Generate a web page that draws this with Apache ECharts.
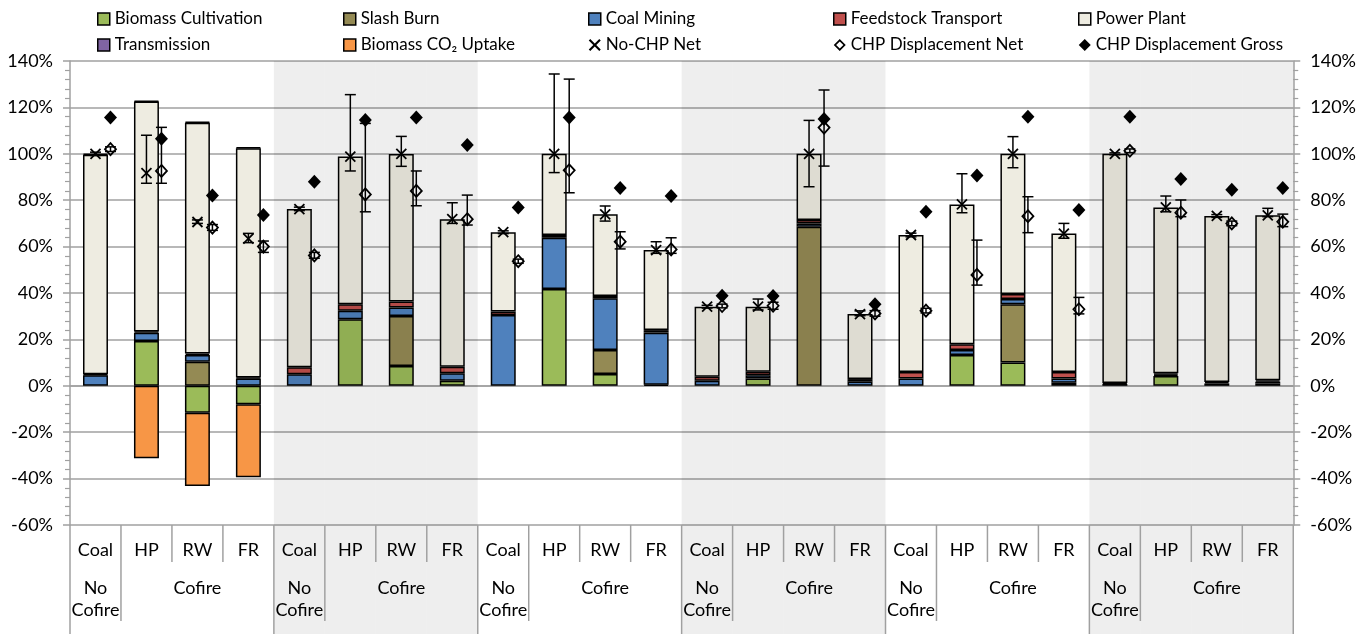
<!DOCTYPE html>
<html>
<head>
<meta charset="utf-8">
<script src="https://cdn.jsdelivr.net/npm/echarts@6/dist/echarts.min.js"></script>
<style>
  html, body { margin: 0; padding: 0; background: #fff; }
  #chart { width: 1359px; height: 634px; }
</style>
</head>
<body>
<div id="chart"></div>
<script>
// Category labels (first row) and scenario labels (second row)
const categories = ['Coal','HP','RW','FR','Coal','HP','RW','FR','Coal','HP','RW','FR',
                    'Coal','HP','RW','FR','Coal','HP','RW','FR','Coal','HP','RW','FR'];
const scenarioLabels = ['No\nCofire','','Cofire','','No\nCofire','','Cofire','','No\nCofire','','Cofire','',
                        'No\nCofire','','Cofire','','No\nCofire','','Cofire','','No\nCofire','','Cofire',''];

// Stacked emission components (% of reference)
const biomassCultivation = [null,19.3,-11.6,-8.0, null,28.7,8.5,2.2, null,41.7,5.1,0.4,
                            null,3.2,null,null, null,13.3,10.0,1.3, null,4.2,null,1.0];
const slashBurn = [null,null,10.4,null, null,null,21.6,null, null,null,10.3,null,
                   null,null,68.6,null, null,null,25.1,null, null,null,null,null];
const coalMining = [4.6,3.6,2.9,3.2, 5.0,3.7,3.7,3.2, 30.5,22.1,22.3,22.5,
                    2.2,1.4,1.4,1.8, 3.2,2.1,2.3,1.9, 0.8,0.6,1.0,0.8];
const feedstockTransport = [0.4,0.5,0.6,0.4, 3.0,2.7,2.5,2.8, 1.5,1.2,1.0,1.1,
                            1.7,1.5,1.5,1.1, 2.7,2.5,2.2,2.7, 0.4,0.6,0.6,0.6];
const powerPlant = [94.6,99.1,99.5,98.8, 68.2,63.7,63.6,63.6, 34.2,35.0,35.2,34.5,
                    30.2,28.0,28.5,28.0, 59.1,60.3,60.4,59.7, 98.8,71.5,71.6,71.1];
const transmission = [0.4,0.4,0.4,0.4, null,null,null,null, null,null,null,null,
                      null,null,null,null, null,null,null,null, null,null,null,null];
const biomassCO2Uptake = [null,-31.2,-31.6,-31.4, null,null,null,null, null,null,null,null,
                          null,null,null,null, null,null,null,null, null,null,null,null];

// Net results with uncertainty ranges
const noChpNet  = [100,91.7,70.6,63.4, 76.2,98.8,100,71.8, 66.2,100,73.9,58.5,
                   34.1,34.1,100,30.9, 65,78.2,100,65.6, 100,76.9,73.2,73.5];
const noChpLow  = [99.3,87.3,70.0,61.7, 75.5,92.6,94.6,70.0, 65.6,91.9,71.0,57.1,
                   33.5,32.7,85.8,30.2, 64.2,74.6,94.0,63.6, 99.6,75.0,72.6,72.9];
const noChpHigh = [100.7,108.0,71.5,65.7, 77.0,125.5,107.5,78.9, 66.8,134.4,77.5,62.1,
                   34.7,37.4,114.4,32.3, 65.8,91.4,107.4,70.0, 100.4,81.8,73.8,76.5];

const chpNet     = [102,92.6,68.2,60.0, 56.2,82.5,84.0,71.8, 53.7,92.9,62.1,58.8,
                    34.4,34.5,111.3,31.2, 32.4,47.8,73.1,33.0, 101.3,74.6,70.0,70.7];
const chpNetLow  = [101,87.3,67.0,57.5, 55.0,75.0,77.6,69.3, 52.8,83.2,59.0,57.1,
                    33.6,33.0,94.7,30.0, 31.4,43.4,66.0,31.0, 100.5,72.9,69.0,68.6];
const chpNetHigh = [103,111.4,69.5,62.4, 57.5,113.1,92.6,82.2, 54.6,132.2,66.4,63.8,
                    35.2,36.0,127.5,32.4, 33.4,62.8,81.5,38.1, 102.1,80.1,71.0,74.0];
const chpGross   = [115.7,106.5,82.0,73.6, 88.0,114.6,115.7,103.8, 76.8,115.7,85.3,81.8,
                    38.8,38.7,115.0,35.1, 75.0,90.6,116.0,75.8, 116.0,89.1,84.5,85.3];

const yTicks = { min: -60, max: 140, interval: 20 };

const FONT = 'Lato';
const GRID_GRAY = '#A0A0A0';
const MARKER_SHIFT = 15;   // CHP markers sit just right of the bar

function barSeries(name, data, color) {
  return {
    name, type: 'bar', stack: 'total', data, barWidth: '49%',
    itemStyle: { color, borderColor: '#000', borderWidth: 1.5 },
    emphasis: { disabled: true }, z: 2
  };
}

function errorGroup(api, x, yLo, yHi) {
  const st = { stroke: '#000', lineWidth: 1.5 };
  const cap = 5.5;
  return [
    { type: 'line', shape: { x1: x, y1: yLo, x2: x, y2: yHi }, style: st },
    { type: 'line', shape: { x1: x - cap, y1: yLo, x2: x + cap, y2: yLo }, style: st },
    { type: 'line', shape: { x1: x - cap, y1: yHi, x2: x + cap, y2: yHi }, style: st }
  ];
}

// No-CHP net: X marker with error bar at the bar centre
function renderNoChp(params, api) {
  const i = api.value(0);
  const p = api.coord([i, api.value(1)]);
  const lo = api.coord([i, api.value(2)])[1];
  const hi = api.coord([i, api.value(3)])[1];
  const x = p[0], y = p[1], s = 5;
  const st = { stroke: '#000', lineWidth: 1.8 };
  return {
    type: 'group',
    children: errorGroup(api, x, lo, hi).concat([
      { type: 'line', shape: { x1: x - s, y1: y - s, x2: x + s, y2: y + s }, style: st },
      { type: 'line', shape: { x1: x - s, y1: y + s, x2: x + s, y2: y - s }, style: st }
    ])
  };
}

// CHP displacement net: hollow diamond with error bar, shifted right
function renderChpNet(params, api) {
  const i = api.value(0);
  const p = api.coord([i, api.value(1)]);
  const lo = api.coord([i, api.value(2)])[1];
  const hi = api.coord([i, api.value(3)])[1];
  const x = p[0] + MARKER_SHIFT, y = p[1];
  return {
    type: 'group',
    children: errorGroup(api, x, lo, hi).concat([
      { type: 'polygon',
        shape: { points: [[x, y - 6], [x + 5.5, y], [x, y + 6], [x - 5.5, y]] },
        style: { fill: null, stroke: '#000', lineWidth: 1.8 } }
    ])
  };
}

// Alternating shaded scenario bands and the category separator lines below the axis
function renderFrame(params, api) {
  const i = api.value(0);
  const cs = params.coordSys;
  const cx = api.coord([i, 0])[0];
  const bw = api.size([1, 0])[0];
  const left = cx - bw / 2;
  const axisY = cs.y + cs.height;
  const bottom = api.getHeight();
  const st = { stroke: GRID_GRAY, lineWidth: 1.5 };
  const kids = [];
  if (Math.floor(i / 4) % 2 === 1) {
    kids.push({ type: 'rect', shape: { x: left, y: cs.y, width: bw, height: bottom - cs.y },
                style: { fill: 'rgba(0,0,0,0.067)' } });
  }
  const pos = i % 4;
  const len = pos === 0 ? bottom - axisY : (pos === 1 ? 96 : 37);
  kids.push({ type: 'line', shape: { x1: left, y1: axisY, x2: left, y2: axisY + len }, style: st });
  if (i === categories.length - 1) {
    kids.push({ type: 'line', shape: { x1: left + bw, y1: axisY, x2: left + bw, y2: bottom }, style: st });
  }
  return { type: 'group', children: kids };
}

const idx = categories.map((c, i) => i);

const legendBase = {
  orient: 'vertical', top: 10, padding: 0, itemGap: 8, itemWidth: 12, itemHeight: 12,
  selectedMode: false,
  textStyle: { fontFamily: FONT, fontSize: 17, color: '#000', lineHeight: 18 },
  itemStyle: { borderColor: '#000', borderWidth: 1.5 }
};
const xIcon = 'path://M0,1.5L1.5,0L6,4.5L10.5,0L12,1.5L7.5,6L12,10.5L10.5,12L6,7.5L1.5,12L0,10.5L4.5,6Z';
const hollowDiamond = 'path://M6,0L12,6L6,12L0,6Z M6,2.4L2.4,6L6,9.6L9.6,6Z';

const option = {
  animation: false,
  backgroundColor: '#fff',
  textStyle: { fontFamily: FONT },
  legend: [
    Object.assign({}, legendBase, { left: 97, data: [
      { name: 'Biomass Cultivation', icon: 'rect' }, { name: 'Transmission', icon: 'rect' }] }),
    Object.assign({}, legendBase, { left: 343, data: [
      { name: 'Slash Burn', icon: 'rect' }, { name: 'Biomass CO₂ Uptake', icon: 'rect' }] }),
    Object.assign({}, legendBase, { left: 588, data: [
      { name: 'Coal Mining', icon: 'rect' },
      { name: 'No-CHP Net', icon: xIcon, itemStyle: { color: '#000', borderWidth: 0 } }] }),
    Object.assign({}, legendBase, { left: 833, data: [
      { name: 'Feedstock Transport', icon: 'rect' },
      { name: 'CHP Displacement Net', icon: hollowDiamond, itemStyle: { color: '#000', borderWidth: 0 } }] }),
    Object.assign({}, legendBase, { left: 1078, data: [
      { name: 'Power Plant', icon: 'rect' },
      { name: 'CHP Displacement Gross', icon: 'diamond', itemStyle: { color: '#000', borderWidth: 0, opacity: 1 } }] })
  ],
  grid: { left: 70, right: 62, top: 61, bottom: 109, containLabel: false },
  xAxis: [
    {
      type: 'category', data: categories, position: 'bottom',
      axisLine: { show: true, lineStyle: { color: GRID_GRAY, width: 1.5 } },
      axisTick: { show: false },
      axisLabel: { interval: 0, margin: 16, fontFamily: FONT, fontSize: 18, color: '#000', lineHeight: 18 }
    },
    {
      type: 'category', data: scenarioLabels, position: 'bottom',
      axisLine: { show: false }, axisTick: { show: false },
      axisLabel: { interval: 0, margin: 52, fontFamily: FONT, fontSize: 18, color: '#000', lineHeight: 22 }
    }
  ],
  yAxis: [
    {
      type: 'value', position: 'left', min: yTicks.min, max: yTicks.max, interval: yTicks.interval,
      axisLine: { show: true, lineStyle: { color: GRID_GRAY, width: 1.5 } },
      axisTick: { show: true, length: 7, lineStyle: { color: GRID_GRAY, width: 1.5 } },
      minorTick: { show: true, splitNumber: 5, length: 5, lineStyle: { color: GRID_GRAY, width: 1.2 } },
      splitLine: { show: true, lineStyle: { color: GRID_GRAY, width: 1.5 } },
      axisLabel: { formatter: '{value}%', margin: 17, fontFamily: FONT, fontSize: 18, color: '#000' }
    },
    {
      type: 'value', position: 'right', min: yTicks.min, max: yTicks.max, interval: yTicks.interval,
      axisLine: { show: true, lineStyle: { color: GRID_GRAY, width: 1.5 } },
      axisTick: { show: true, length: 7, lineStyle: { color: GRID_GRAY, width: 1.5 } },
      minorTick: { show: true, splitNumber: 5, length: 5, lineStyle: { color: GRID_GRAY, width: 1.2 } },
      splitLine: { show: false },
      axisLabel: { formatter: '{value}%', margin: 17, fontFamily: FONT, fontSize: 18, color: '#000' }
    }
  ],
  series: [
    barSeries('Biomass Cultivation', biomassCultivation, '#9BBB59'),
    barSeries('Slash Burn', slashBurn, '#948A54'),
    barSeries('Coal Mining', coalMining, '#4F81BD'),
    barSeries('Feedstock Transport', feedstockTransport, '#C0504D'),
    barSeries('Power Plant', powerPlant, '#EEECE1'),
    barSeries('Transmission', transmission, '#8064A2'),
    barSeries('Biomass CO₂ Uptake', biomassCO2Uptake, '#F79646'),
    {
      name: 'frame', type: 'custom', renderItem: renderFrame, clip: false, silent: true,
      data: idx.map(i => [i, 0]), encode: { x: 0, y: 1 }, z: 3
    },
    {
      name: 'No-CHP Net', type: 'custom', renderItem: renderNoChp, clip: false,
      itemStyle: { color: '#000' },
      data: idx.map(i => [i, noChpNet[i], noChpLow[i], noChpHigh[i]]),
      encode: { x: 0, y: 1 }, z: 4
    },
    {
      name: 'CHP Displacement Net', type: 'custom', renderItem: renderChpNet, clip: false,
      itemStyle: { color: '#000' },
      data: idx.map(i => [i, chpNet[i], chpNetLow[i], chpNetHigh[i]]),
      encode: { x: 0, y: 1 }, z: 4
    },
    {
      name: 'CHP Displacement Gross', type: 'scatter', symbol: 'diamond', symbolSize: [13, 14],
      symbolOffset: [MARKER_SHIFT, 0],
      itemStyle: { color: '#000', opacity: 1 },
      emphasis: { disabled: true },
      data: idx.map(i => [i, chpGross[i]]), z: 4
    }
  ]
};

const chart = echarts.init(document.getElementById('chart'), null, { renderer: 'canvas' });
chart.setOption(option);
</script>
</body>
</html>
